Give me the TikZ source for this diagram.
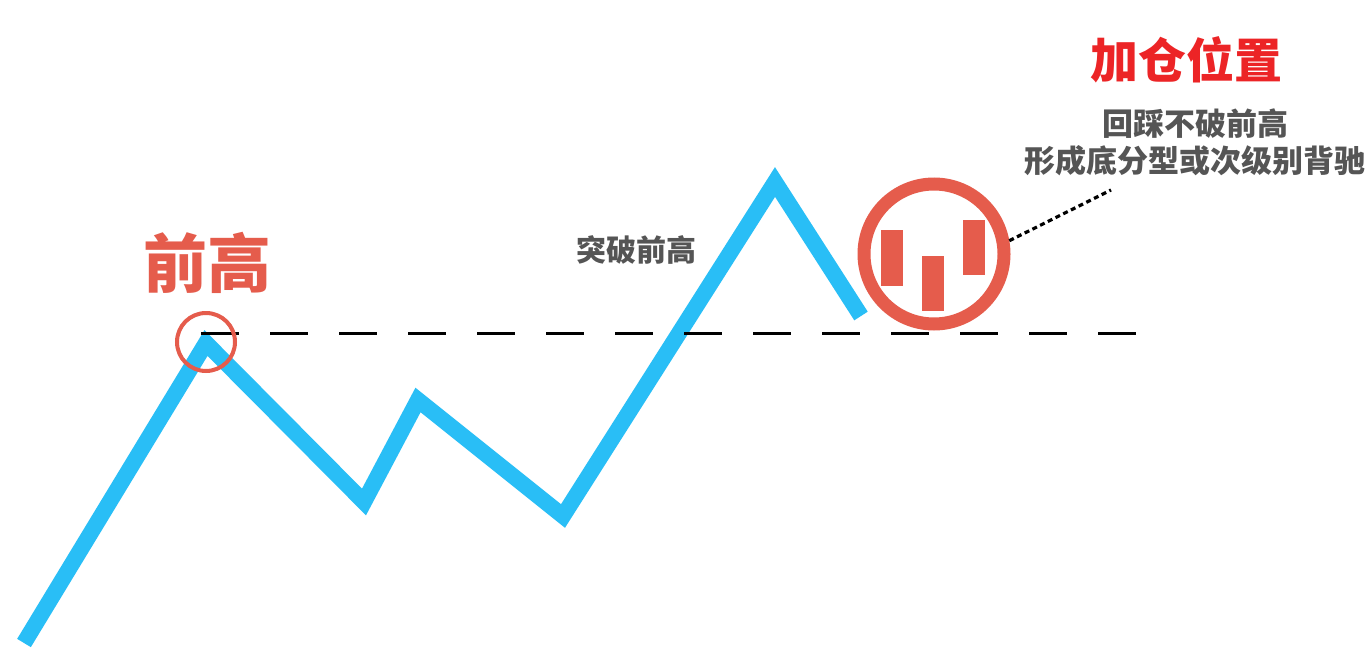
\documentclass[tikz,border=0pt]{standalone}
\usepackage{fontspec}
\newfontfamily\cjk{Noto Sans CJK SC}
\definecolor{lineblue}{RGB}{41,190,246}
\definecolor{coral}{RGB}{229,92,76}
\definecolor{headred}{RGB}{236,36,38}
\definecolor{txtgray}{RGB}{85,85,85}
\begin{document}
\begin{tikzpicture}[x=0.5pt,y=-0.5pt,
  trend/.style={draw=lineblue,line width=8pt,line join=miter,miter limit=10},
  level/.style={draw=black,line width=1.5pt,dash pattern=on 19pt off 15.5pt},
  ring/.style={draw=coral,circle,inner sep=0pt},
  candle/.style={fill=coral,draw=none,minimum width=11pt,inner sep=0pt},
  lbl/.style={font=\cjk\bfseries,inner sep=0pt,anchor=center}]
\useasboundingbox[fill=white] (0,0) rectangle (1366,653);
% price path
\coordinate (p0) at (24,643);
\coordinate (p1) at (206,343);
\coordinate (p2) at (364,502);
\coordinate (p3) at (418,400);
\coordinate (p4) at (563,516);
\coordinate (p5) at (775,182);
\coordinate (p6) at (861,316);
\draw[trend] (p0) -- (p1) -- (p2) -- (p3) -- (p4) -- (p5) -- (p6);
% level line
\coordinate (l0) at (201,333);
\coordinate (l1) at (1150,333);
\draw[level] (l0) -- (l1);
% small ring
\node[ring,line width=2pt,minimum size=29pt] (sr) at (206,342) {};
% big ring with candles
\node[ring,line width=6.5pt,minimum size=70pt] (br) at (934,254) {};
\node[candle,minimum height=28pt] (c1) at (892,258) {};
\node[candle,minimum height=27.5pt] (c2) at (933,283.5) {};
\node[candle,minimum height=27.5pt] (c3) at (974,247.5) {};
% labels
\node[lbl,text=coral,font=\cjk\bfseries\fontsize{32pt}{32pt}\selectfont] (qg) at (207,263) {前高};
\node[lbl,text=txtgray,font=\cjk\bfseries\fontsize{15pt}{15pt}\selectfont] (tp) at (636,250) {突破前高};
\node[lbl,text=headred,font=\cjk\bfseries\fontsize{24pt}{24pt}\selectfont] (jc) at (1186,60) {加仓位置};
\node[lbl,text=txtgray,font=\cjk\bfseries\fontsize{15.5pt}{15.5pt}\selectfont] (d1) at (1195,124) {回踩不破前高};
\node[lbl,text=txtgray,font=\cjk\bfseries\fontsize{15.5pt}{15.5pt}\selectfont] (d2) at (1195,161) {形成底分型或次级别背驰};
\coordinate (dt) at (1111,190);
\draw[black,line width=1.6pt,dash pattern=on 2.5pt off 1.8pt] (br.10) -- (dt);
\end{tikzpicture}
\end{document}
